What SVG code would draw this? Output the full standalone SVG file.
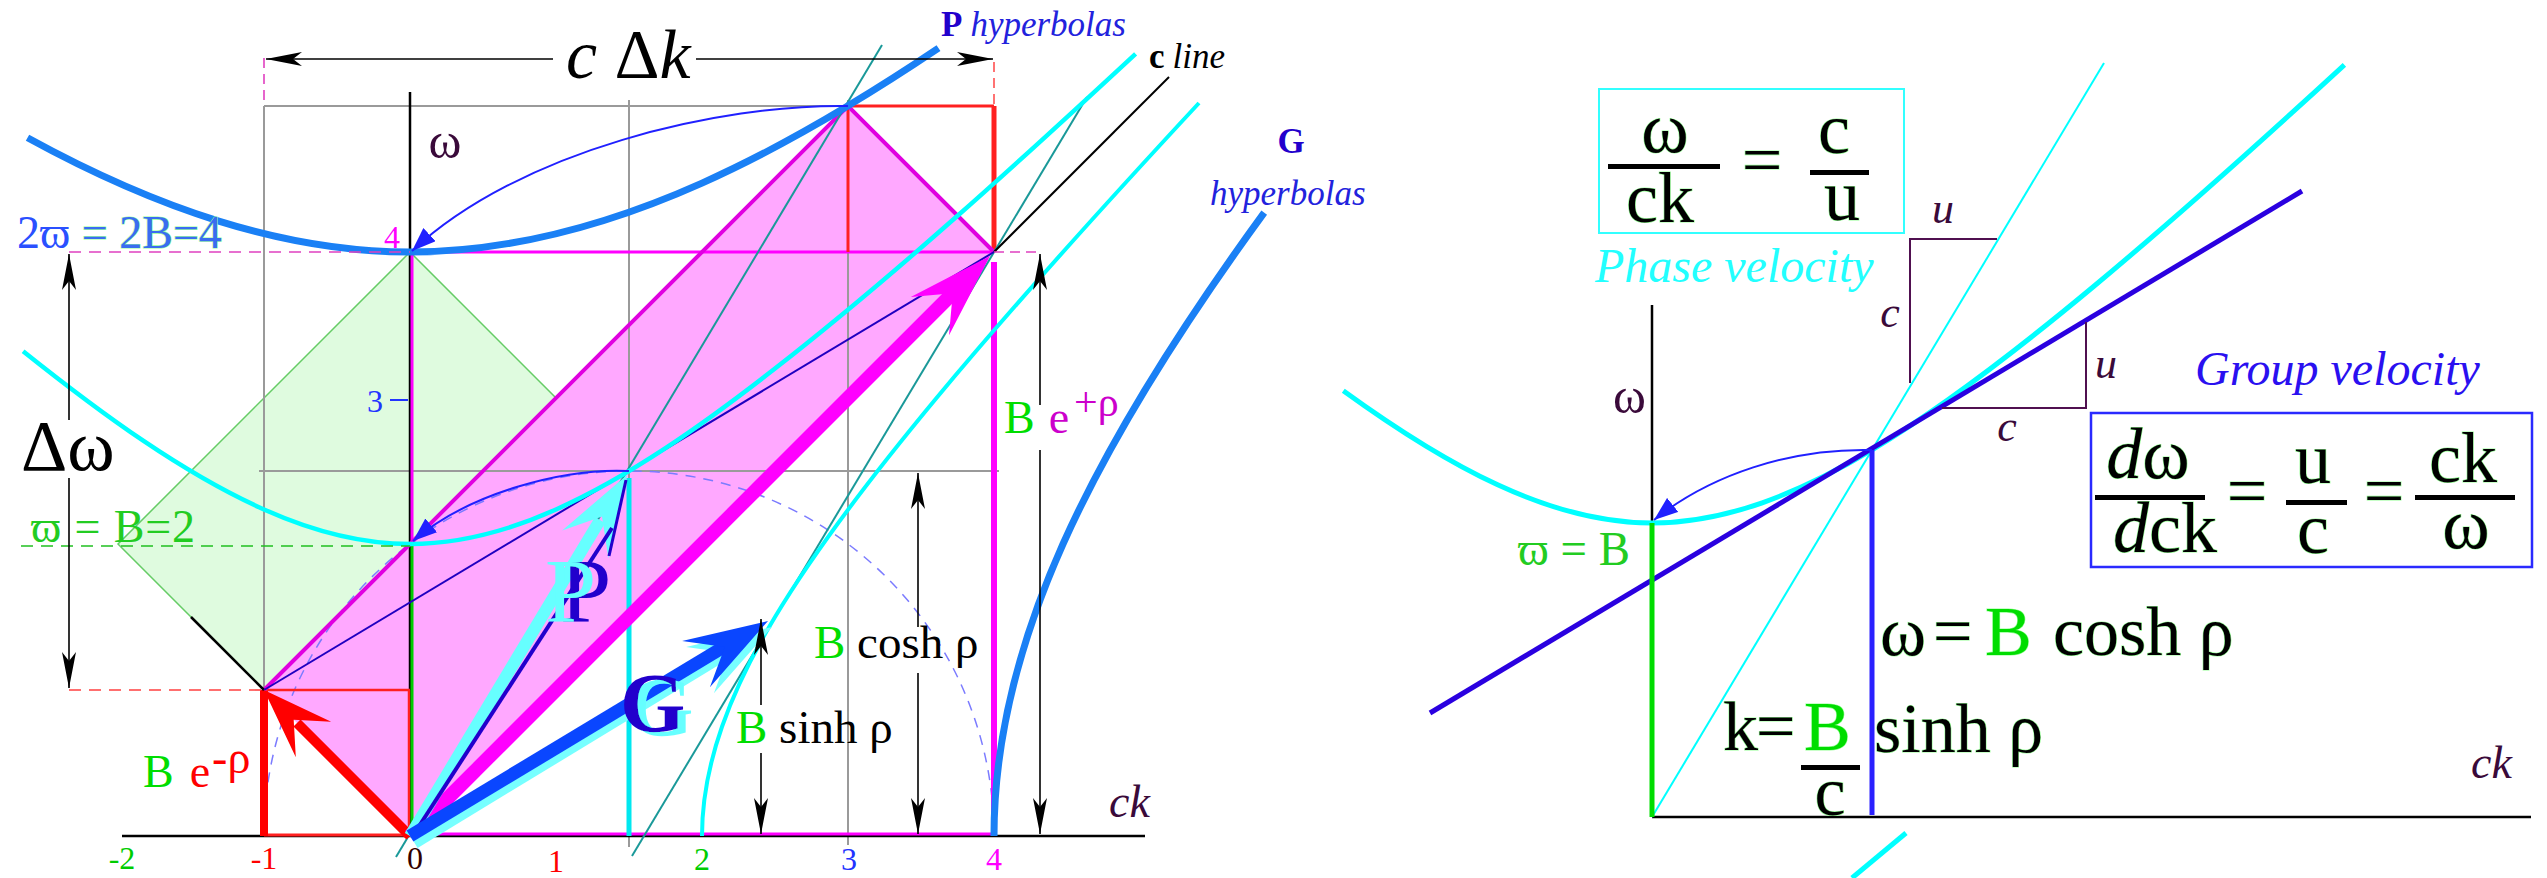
<svg xmlns="http://www.w3.org/2000/svg" width="2547" height="878" viewBox="0 0 2547 878" font-family="'Liberation Serif', 'Times New Roman', serif">
<defs>
<style>
text{font-family:'Liberation Serif','Times New Roman',serif}
.it{font-style:italic}
.b{font-weight:bold}
.pur{fill:#3a0a3a}
.ax{stroke:#000;stroke-width:2.5;fill:none}
.gr{stroke:#9a9a9a;stroke-width:2;fill:none}
.teal{stroke:#1a9999;stroke-width:2;fill:none}
.meas{stroke:#000;stroke-width:1.6;fill:none;marker-end:url(#ah)}
.cur{stroke:#2020ff;stroke-width:2;fill:none;marker-end:url(#bh)}
.gl{stroke:#9f9;stroke-width:1.2;paint-order:stroke}
.num{font-size:32px;text-anchor:middle}
</style>
<marker id="ah" viewBox="0 0 36 14" refX="36" refY="7" markerWidth="36" markerHeight="14" markerUnits="userSpaceOnUse" orient="auto"><path d="M0,0 L36,7 L0,14 L9,7 z" fill="#000"/></marker>
<marker id="bh" viewBox="0 0 24 18" refX="24" refY="9" markerWidth="24" markerHeight="18" markerUnits="userSpaceOnUse" orient="auto"><path d="M0,0 L24,9 L0,18 z" fill="#2020ff"/></marker>
<filter id="shP" x="-10%" y="-10%" width="150%" height="130%"><feDropShadow dx="15" dy="0" stdDeviation="0" flood-color="#2200cc" flood-opacity="1"/></filter>
<filter id="shG" x="-10%" y="-10%" width="140%" height="130%"><feDropShadow dx="8" dy="4" stdDeviation="0" flood-color="#66ffff" flood-opacity="1"/></filter>
</defs>
<rect width="2547" height="878" fill="#fff"/>

<g id="left-regions">
<polygon points="410,252 556,398 264,690 118,544" fill="#dffbdf" stroke="#6c6" stroke-width="1.5"/>
<polygon points="410,836 994,252 848,106 264,690" fill="#ffa8ff"/>
</g>
<g id="left-grid">
<line class="gr" x1="264" y1="106" x2="264" y2="690" stroke="#888"/>
<line class="gr" x1="629" y1="100" x2="629" y2="847"/>
<line class="gr" x1="848" y1="100" x2="848" y2="845"/>
<line class="gr" x1="264" y1="106" x2="848" y2="106" stroke="#777"/>
<line class="gr" x1="259" y1="471" x2="999" y2="471"/>
<path d="M264 836 A365 365 0 0 1 994 836" fill="none" stroke="#7b7bff" stroke-width="1.5" stroke-dasharray="10 8"/>
</g>
<g id="left-frame">
<line class="ax" x1="122" y1="836" x2="1145" y2="836" stroke-width="3"/>
<line class="ax" x1="410" y1="92" x2="410" y2="836" stroke-width="2"/>
<line x1="410" y1="834" x2="994" y2="834" stroke="#ff00ff" stroke-width="3"/>
<line x1="264" y1="835" x2="410" y2="835" stroke="#ff2020" stroke-width="3"/>
<line x1="264" y1="836" x2="264" y2="690" stroke="#ff0000" stroke-width="8"/>
<line x1="264" y1="690" x2="410" y2="690" stroke="#ff2020" stroke-width="2.5"/>
<line x1="409" y1="836" x2="409" y2="690" stroke="#ff2020" stroke-width="2.5"/>
<line x1="412" y1="252" x2="412" y2="544" stroke="#ff00ff" stroke-width="3"/>
<line x1="412" y1="544" x2="412" y2="836" stroke="#00cc00" stroke-width="3"/>
<line x1="410" y1="252" x2="994" y2="252" stroke="#ff00ff" stroke-width="3"/>
<line x1="994" y1="262" x2="994" y2="836" stroke="#ff00ff" stroke-width="6"/>
<line x1="848" y1="106" x2="994" y2="106" stroke="#ff2020" stroke-width="3"/>
<line x1="848" y1="106" x2="848" y2="252" stroke="#ff2020" stroke-width="3"/>
<line x1="994" y1="106" x2="994" y2="252" stroke="#ff2020" stroke-width="5"/>
<polyline points="264,690 848,106 994,252" fill="none" stroke="#e000e0" stroke-width="4"/>
</g>
<g id="left-lines">
<line class="teal" x1="396" y1="857" x2="882" y2="45"/>
<line class="teal" x1="632" y1="856" x2="1087" y2="97"/>
<line x1="994" y1="252" x2="1169" y2="77" stroke="#000" stroke-width="2"/>
<line x1="191" y1="617" x2="264" y2="690" stroke="#000" stroke-width="2.5"/>
<line x1="264" y1="690" x2="994" y2="252" stroke="#2000c0" stroke-width="2"/>
</g>
<g id="left-hyperbolas" fill="none">
<path d="M23.1 351.2 C103.4 415.3 183.7 473.6 264 509.5 C312.7 531.3 361.3 544 410 544 C458.7 544 507.3 531.3 556 509.5 C629 476.9 702 425.6 775 368.6 C895.2 274.7 1015.4 165.3 1135.6 53.8" stroke="#00ffff" stroke-width="4.5"/>
<path d="M702 836 C702 763 731.2 690 775 617 C818.8 544 875.8 471 936.5 398 C1018.3 299.7 1107.7 201.3 1199 103" stroke="#00ffff" stroke-width="4"/>
<path d="M27.5 137.8 C155 207.7 282.5 252 410 252 C507.3 252 604.7 226.6 702 183.1 C780.8 147.9 859.7 101.1 938.5 48.2" stroke="#1a80f5" stroke-width="7"/>
<path d="M994 836 C994 738.7 1019.5 641.3 1063 544 C1112.4 433.5 1183.6 323.1 1264.2 212.6" stroke="#1a80f5" stroke-width="7"/>
<line x1="629" y1="478" x2="629" y2="836" stroke="#00e8f0" stroke-width="5"/>
</g>
<g id="left-curved-arrows">
<path class="cur" d="M848 106 C720 104 520 150 412 251"/>
<path class="cur" d="M629 471 C565 468 470 492 413 541"/>
</g>
<g id="vector-red">
<line x1="410" y1="836" x2="297" y2="723" stroke="#ff0000" stroke-width="10"/>
<polygon points="264,690 331.2,721.8 293.7,719.7 295.8,757.2" fill="#ff0000"/>
</g>
<g id="vector-magenta">
<line x1="410" y1="836" x2="955" y2="291" stroke="#ff00ff" stroke-width="14"/>
<polygon points="990,256 949,335.2 952.7,293.3 910.8,297" fill="#ff00ff"/>
</g>
<g id="vector-P">
<line x1="410" y1="836" x2="600" y2="520" stroke="#66ffff" stroke-width="12"/>
<polygon points="627,475 608.4,558.3 602,516.6 562.2,530.5" fill="#66ffff"/>
<line x1="414" y1="834" x2="612" y2="528" stroke="#2200cc" stroke-width="4"/>
<line x1="609" y1="556" x2="626" y2="480" stroke="#2200cc" stroke-width="3"/>
<text x="545" y="622" font-size="92" fill="#66ffff" filter="url(#shP)">P</text>
</g>
<g id="vector-G">
<line x1="414" y1="842" x2="730" y2="650" stroke="#77ffff" stroke-width="14"/>
<polygon points="772,627 713.9,693.3 728.8,652.9 686.1,647.1" fill="#77ffff"/>
<line x1="410" y1="836" x2="727" y2="645" stroke="#0a46ff" stroke-width="13"/>
<polygon points="768,621 709.9,687.3 724.8,646.9 682.1,641.1" fill="#0a46ff"/>
<text x="620" y="732" font-size="84" class="b" fill="#2200cc" filter="url(#shG)">G</text>
</g>
<g id="left-measures">
<line x1="69" y1="252" x2="410" y2="252" stroke="#e040c0" stroke-width="1.6" stroke-dasharray="12 8"/>
<line x1="69" y1="690" x2="264" y2="690" stroke="#ff4040" stroke-width="1.6" stroke-dasharray="12 8"/>
<line x1="21" y1="546" x2="410" y2="546" stroke="#20c020" stroke-width="1.6" stroke-dasharray="12 8"/>
<line x1="264" y1="58" x2="264" y2="106" stroke="#e040c0" stroke-width="1.6" stroke-dasharray="10 6"/>
<line x1="994" y1="62" x2="994" y2="106" stroke="#ff5050" stroke-width="1.6" stroke-dasharray="10 6"/>
<line x1="994" y1="252" x2="1040" y2="252" stroke="#e040c0" stroke-width="1.6" stroke-dasharray="10 6"/>
<line class="meas" x1="553" y1="59" x2="266" y2="59"/>
<line class="meas" x1="696" y1="59" x2="993" y2="59"/>
<line class="meas" x1="69" y1="420" x2="69" y2="254"/>
<line class="meas" x1="69" y1="478" x2="69" y2="688"/>
<line class="meas" x1="1040" y1="405" x2="1040" y2="254"/>
<line class="meas" x1="1040" y1="450" x2="1040" y2="834"/>
<line class="meas" x1="918" y1="627" x2="918" y2="473"/>
<line class="meas" x1="918" y1="673" x2="918" y2="834"/>
<line class="meas" x1="761" y1="705" x2="761" y2="619"/>
<line class="meas" x1="761" y1="753" x2="761" y2="834"/>
<line x1="390" y1="400" x2="408" y2="400" stroke="#2233ff" stroke-width="2"/>
</g>
<g id="left-labels">
<text x="566" y="78" font-size="70"><tspan class="it">c</tspan> Δ<tspan class="it">k</tspan></text>
<text x="941" y="36" font-size="35"><tspan class="b" fill="#2200cc">P</tspan><tspan class="it" fill="#2222dd" dx="8">hyperbolas</tspan></text>
<text x="1149" y="68" font-size="35"><tspan class="b">c</tspan><tspan class="it" dx="8">line</tspan></text>
<text x="1291" y="153" font-size="35" class="b" fill="#2200cc" text-anchor="middle">G</text>
<text x="1210" y="205" font-size="35" class="it" fill="#2222dd">hyperbolas</text>
<text x="445" y="158" font-size="50" class="pur" text-anchor="middle">ω</text>
<text x="392" y="248" font-size="32" fill="#ff00ff" text-anchor="middle">4</text>
<text x="375" y="412" font-size="32" fill="#2233ff" text-anchor="middle">3</text>
<text x="17" y="248" font-size="46"><tspan fill="#2a50ff">2ϖ</tspan><tspan fill="#3a6cf0" class="gl"> = 2B=4</tspan></text>
<text x="31" y="542" font-size="46" fill="#22cc22" textLength="164" lengthAdjust="spacing">ϖ = B=2</text>
<text x="21" y="470" font-size="72">Δω</text>
<text x="1004" y="433" font-size="46"><tspan fill="#00dd00">B</tspan><tspan fill="#cc00cc" dx="14">e</tspan><tspan fill="#cc00cc" font-size="42" dx="5" dy="-17">+ρ</tspan></text>
<text x="143" y="787" font-size="46"><tspan fill="#00dd00">B</tspan><tspan fill="#ff0000" dx="16">e</tspan><tspan fill="#ff0000" font-size="46" dx="2" dy="-14">-ρ</tspan></text>
<text x="814" y="658" font-size="47"><tspan fill="#00dd00">B</tspan> cosh ρ</text>
<text x="736" y="743" font-size="47"><tspan fill="#00dd00">B</tspan> sinh ρ</text>
<text x="1109" y="817" font-size="46" class="it pur">ck</text>
<text class="num" x="122" y="869" fill="#00cc00">-2</text>
<text class="num" x="264" y="869" fill="#ff0000">-1</text>
<text class="num" x="415" y="869" fill="#330000">0</text>
<text class="num" x="556" y="872" fill="#ff0000">1</text>
<text class="num" x="702" y="870" fill="#00cc00">2</text>
<text class="num" x="849" y="870" fill="#2233ff">3</text>
<text class="num" x="994" y="870" fill="#ff00ff">4</text>
</g>

<g id="right-axes">
<line class="ax" x1="1652" y1="305" x2="1652" y2="817"/>
<line class="ax" x1="1652" y1="817" x2="2531" y2="817"/>
</g>
<g id="right-curves" fill="none">
<line x1="1652" y1="817" x2="2104" y2="63" stroke="#00ffff" stroke-width="2"/>
<path d="M1343.3 390.7 C1446.2 465.2 1549.1 523 1652 523 C1725.5 523 1799 493.6 1872.5 449.5 C1946 405.4 2019.5 348.2 2093 287 C2176.8 217.3 2260.6 141.9 2344.4 64.8" stroke="#00ffff" stroke-width="5"/>
<line x1="1906" y1="833" x2="1852" y2="878" stroke="#00ffff" stroke-width="5"/>
<line x1="1430" y1="713" x2="2302" y2="191" stroke="#2a00e0" stroke-width="5"/>
<line x1="1652" y1="523" x2="1652" y2="817" stroke="#00dd00" stroke-width="5"/>
<line x1="1872" y1="450" x2="1872" y2="815" stroke="#2a20ff" stroke-width="5"/>
<path class="cur" d="M1872 450 C1790 448 1710 475 1654 520"/>
<polyline points="1910,383 1910,239 1997,239" stroke="#501050" stroke-width="2"/>
<polyline points="1942,408 2086,408 2086,322" stroke="#501050" stroke-width="2"/>
</g>
<g id="phase-box">
<rect x="1599" y="89" width="305" height="144" fill="none" stroke="#33ffff" stroke-width="2"/>
<g font-size="72" text-anchor="middle" class="gl">
<text x="1665" y="152">ω</text>
<text x="1660" y="222">ck</text>
<text x="1762" y="184">=</text>
<text x="1834" y="153">c</text>
<text x="1842" y="220">u</text>
</g>
<rect x="1608" y="164" width="112" height="5" fill="#000"/>
<rect x="1810" y="170" width="59" height="5" fill="#000"/>
</g>
<g id="group-box">
<rect x="2091" y="413" width="441" height="154" fill="none" stroke="#2a2aff" stroke-width="2.5"/>
<g font-size="72" text-anchor="middle" class="gl">
<text x="2148" y="478"><tspan class="it">d</tspan>ω</text>
<text x="2165" y="552"><tspan class="it">d</tspan>ck</text>
<text x="2247" y="515">=</text>
<text x="2313" y="483">u</text>
<text x="2313" y="553">c</text>
<text x="2384" y="515">=</text>
<text x="2463" y="482">ck</text>
<text x="2466" y="548">ω</text>
</g>
<rect x="2095" y="495" width="110" height="5" fill="#000"/>
<rect x="2286" y="500" width="61" height="5" fill="#000"/>
<rect x="2415" y="495" width="100" height="5" fill="#000"/>
</g>
<g id="right-labels">
<text x="1595" y="282" font-size="48" class="it" fill="#22ffff">Phase velocity</text>
<text x="2195" y="385" font-size="48" class="it" fill="#2a10f0">Group velocity</text>
<text x="1943" y="223" font-size="44" class="it pur" text-anchor="middle">u</text>
<text x="1890" y="327" font-size="44" class="it pur" text-anchor="middle">c</text>
<text x="2106" y="378" font-size="44" class="it pur" text-anchor="middle">u</text>
<text x="2007" y="441" font-size="44" class="it pur" text-anchor="middle">c</text>
<text x="1613" y="413" font-size="50" class="pur">ω</text>
<text x="2471" y="778" font-size="46" class="it pur">ck</text>
<text x="1518" y="565" font-size="48" fill="#22cc22" textLength="112" lengthAdjust="spacingAndGlyphs">ϖ = B</text>
<text y="655" font-size="70" class="gl"><tspan x="1880">ω</tspan><tspan x="1933">=</tspan><tspan x="1985" fill="#00dd00">B</tspan><tspan x="2053">cosh ρ</tspan></text>
<text y="750" font-size="70" class="gl"><tspan x="1723">k</tspan><tspan x="1756">=</tspan><tspan x="1804" fill="#00dd00">B</tspan><tspan x="1874" y="752">sinh ρ</tspan></text>
<rect x="1801" y="765" width="59" height="5" fill="#000"/>
<text x="1830" y="815" font-size="70" text-anchor="middle" class="gl">c</text>
</g>
</svg>
